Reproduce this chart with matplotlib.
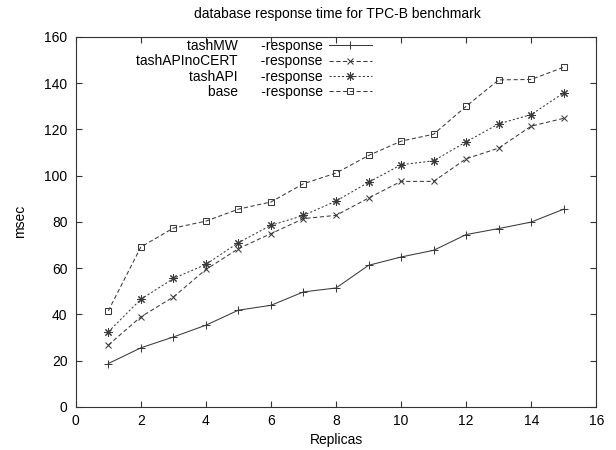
#!/usr/bin/env python3
"""
Database response time for the TPC-B benchmark, gnuplot-style line chart.
"""

import matplotlib
matplotlib.use("Agg")
import matplotlib.pyplot as plt

plt.rcParams["font.family"] = ["Liberation Sans", "DejaVu Sans"]
plt.rcParams["font.size"] = 10

# Data
replicas = list(range(1, 16))
series_names = ["tashMW", "tashAPInoCERT", "tashAPI", "base"]
tash_mw = [18.7, 25.5, 30.2, 35.3, 41.8, 43.9, 49.7, 51.4, 61.2, 64.8, 67.7, 74.5, 77.1, 79.9, 85.5]
tash_api_nocert = [26.7, 38.9, 47.5, 59.4, 68.4, 74.9, 81.4, 82.8, 90.3, 97.5, 97.5, 107.3, 111.9, 121.4, 124.8]
tash_api = [32.4, 46.5, 55.5, 61.6, 71.0, 78.5, 82.8, 89.0, 97.1, 104.7, 106.4, 114.6, 122.4, 126.4, 135.8]
base = [41.5, 69.1, 77.3, 80.3, 85.5, 88.6, 96.5, 101.1, 108.7, 114.9, 117.9, 130.0, 141.4, 141.6, 146.9]

x_ticks = list(range(0, 17, 2))
y_ticks = list(range(0, 161, 20))

# Styles (gnuplot-ish: +, x, asterisk, open square)
STYLES = [
    dict(linestyle="-", marker="+", markersize=6),
    dict(linestyle=(0, (4, 2.5)), marker="x", markersize=5),
    dict(linestyle=(0, (2, 2)), marker=(8, 2, 0), markersize=6),
    dict(linestyle=(0, (4, 2.5)), marker="s", markersize=5, markerfacecolor="none"),
]
LINE_COLOR = "#3a3a3a"

fig = plt.figure(figsize=(6.16, 4.5), dpi=100)
ax = fig.add_axes([0.123, 0.096, 0.845, 0.822])

all_series = [tash_mw, tash_api_nocert, tash_api, base]
for name, values, style in zip(series_names, all_series, STYLES):
    ax.plot(
        replicas, values,
        color=LINE_COLOR, linewidth=0.75, markeredgewidth=0.75,
        label=f"{name}      -response",
        **style,
    )

ax.set_xlim(0, 16)
ax.set_ylim(0, 160)
ax.set_xticks(x_ticks)
ax.set_yticks(y_ticks)
ax.tick_params(direction="in", top=True, right=True, length=4, width=0.8,
               labelsize=10, color="#333333")
ax.tick_params(axis="y", pad=6)
ax.tick_params(axis="x", pad=5)
for spine in ax.spines.values():
    spine.set_linewidth(0.8)
    spine.set_color("#333333")

ax.set_xlabel("Replicas", fontsize=10, labelpad=4)
ax.set_ylabel("msec", fontsize=10, labelpad=12)
fig.text(0.547, 0.969, "database response time for TPC-B benchmark",
         ha="center", va="center", fontsize=10)

ax.legend(
    loc="upper right",
    bbox_to_anchor=(372 / 616, 1 - 39 / 450),
    bbox_transform=fig.transFigure,
    frameon=False,
    markerfirst=False,
    handlelength=3.1,
    handletextpad=0.45,
    labelspacing=0.1,
    borderpad=0,
    borderaxespad=0,
    fontsize=10,
)

plt.savefig("out.png", dpi=100, facecolor="white")
plt.close(fig)
